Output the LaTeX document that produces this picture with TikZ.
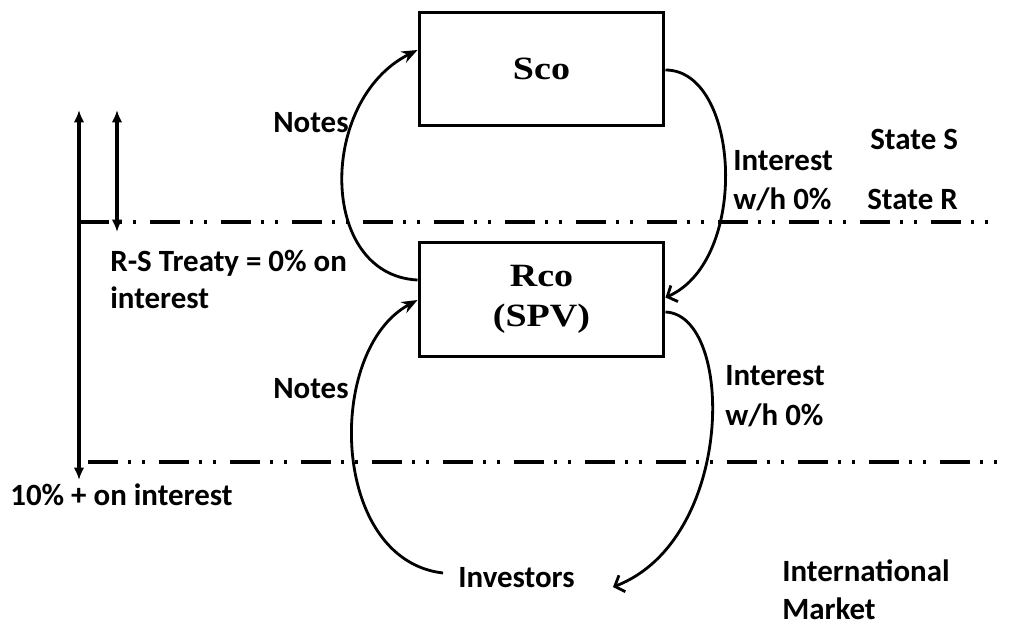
\documentclass[tikz,border=0pt]{standalone}
\usepackage{fontspec}
\setmainfont{Carlito}
\newfontfamily\boxserif{Liberation Serif}[FakeStretch=1.17]
\usetikzlibrary{arrows.meta,calc}

\begin{document}
\begin{tikzpicture}[x=0.02cm,y=-0.02cm,
  lbl/.style={inner sep=0pt, anchor=base west, align=left,
    font=\fontsize{17.6}{22.6}\selectfont\bfseries},
  entity/.style={draw, line width=1.7pt, minimum width=4.9cm, minimum height=2.28cm,
    inner sep=0pt, align=center, font=\boxserif\fontsize{18.5}{22.7}\selectfont\bfseries},
  flow/.style={line width=1.6pt},
  solidtip/.style={-{Stealth[length=9pt,width=7pt]}},
  barbtip/.style={-{Straight Barb[length=4.5pt,width=10pt,line width=1.6pt]}},
  border/.style={line width=2pt,
    dash pattern=on 17pt off 6pt on 1.7pt off 6pt on 1.7pt off 8pt},
  span/.style={line width=1.8pt,
    {Latex[length=7pt,width=6pt]}-{Latex[length=7pt,width=6pt]}}]
\useasboundingbox (0,0) rectangle (1013,628);

% the two companies
\node[entity] (sco) at (541.5,69) {Sco};
\node[entity] (rco) at (541.5,299.5) {Rco\\(SPV)};

% labels (multi-line labels are placed by the baseline of their last line)
\node[lbl] (notes1) at (273,133) {Notes};
\node[lbl] (notes2) at (273,398) {Notes};
\node[lbl] (int1) at (733,210) {Interest\\w/h 0\%};
\node[lbl] (int2) at (725,425) {Interest\\w/h 0\%};
\node[lbl] (stS) at (870,150) {State S};
\node[lbl] (stR) at (867,210) {State R};
\node[lbl, font=\fontsize{17.6}{20.5}\selectfont\bfseries] (treaty) at (110,308) {R-S Treaty = 0\% on\\interest};
\node[lbl] (wht) at (10,505) {10\% + on interest};
\node[lbl] (inv) at (458,587) {Investors};
\node[lbl, font=\fontsize{17.6}{21.5}\selectfont\bfseries] (mkt) at (782,619) {International\\Market};

% border lines and spans
\coordinate (topL) at (79,110);
\coordinate (botL) at (79,480);
\coordinate (topS) at (117,110);
\coordinate (botS) at (117,232);
\coordinate (lineRa) at (79,222);
\coordinate (lineRb) at (1000,222);
\coordinate (lineIa) at (88,462);
\coordinate (lineIb) at (1000,462);

\draw[border] (lineRa) -- (lineRb);
\draw[border] (lineIa) -- (lineIb);
\draw[span] (topL) -- (botL);
\draw[span] (topS) -- (botS);

% flows
\draw[flow,solidtip] ($(rco.west)+(0,-19.5)$) .. controls (318,275) and (318,100) .. ($(sco.west)+(0,-19)$);
\draw[flow,barbtip] ($(sco.east)+(0,1)$) .. controls (740,70) and (750,260) .. ($(rco.east)+(0,-2)$);
\draw[flow,solidtip] ($(inv.base west)+(-15,-14)$) .. controls (330,560) and (325,350) .. ($(rco.west)+(0,0.5)$);
\draw[flow,barbtip] ($(rco.east)+(0,12.5)$) .. controls (735,315) and (735,540) .. ($(inv.base east)+(38,0)$);
\end{tikzpicture}
\end{document}
